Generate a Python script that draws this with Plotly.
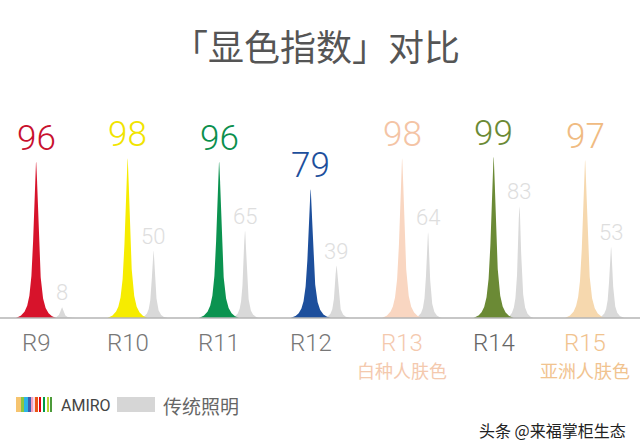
import numpy as np
import plotly.graph_objects as go

# ---------------- data ----------------
categories = ["R9", "R10", "R11", "R12", "R13", "R14", "R15"]
sub_labels = ["", "", "", "", "白种人肤色", "", "亚洲人肤色"]
amiro_values = [96, 98, 96, 79, 98, 99, 97]
traditional_values = [8, 50, 65, 39, 64, 83, 53]
series_names = ["AMIRO", "传统照明"]
title_text = "「显色指数」对比"
watermark_text = "头条 @来福掌柜生态"

# ---------------- styles ----------------
amiro_fill = ["#d7132b", "#f6ec00", "#0b9350", "#1d4f9c", "#f9d6c1", "#6b8a35", "#f6d8ae"]
amiro_text = ["#c8102e", "#f1e400", "#0b8f4d", "#1d4f9c", "#f4c4a5", "#6b8a35", "#f0bb82"]
cat_colors = ["#777777", "#777777", "#777777", "#777777", "#f4c9ae", "#666666", "#f1c38f"]
grey_fill = "#d9d9d9"
grey_text = "#dedede"
NARROW = "Roboto, Liberation Sans, sans-serif"
CJK = "Noto Sans CJK SC, Noto Sans, sans-serif"

W, H = 640, 448
baseline_px = 318
unit_px = 91.5
grey_offset = 0.284                       # x offset of the grey spike (category units)
color_shape = (2.9 / unit_px, 20 / unit_px)   # (core width, foot half-width)
grey_shape = (2.0 / unit_px, 14 / unit_px)


def spike(xc, h, shape):
    s, w = shape
    d = np.concatenate([-w * np.linspace(1, 0, 200) ** 2, w * np.linspace(0, 1, 200)[1:] ** 2])
    lor = 1 / (1 + (d / s) ** 2)
    lw = 1 / (1 + (w / s) ** 2)
    y = h * (lor - lw) / (1 - lw)
    return xc + d, y


fig = go.Figure()
for i, v in enumerate(traditional_values):
    xs, ys = spike(i + grey_offset, v, grey_shape)
    fig.add_trace(go.Scatter(x=xs, y=ys, fill="toself", fillcolor=grey_fill, mode="lines",
                             line=dict(width=0), yaxis="y", showlegend=False, hoverinfo="skip"))
for i, v in enumerate(amiro_values):
    xs, ys = spike(i, v, color_shape)
    fig.add_trace(go.Scatter(x=xs, y=ys, fill="toself", fillcolor=amiro_fill[i], mode="lines",
                             line=dict(width=0), yaxis="y2", showlegend=False, hoverinfo="skip"))

ann = []
for i, v in enumerate(amiro_values):
    ann.append(dict(x=i, y=v, xref="x", yref="y2", text=str(v), showarrow=False,
                    yanchor="bottom", yshift=1,
                    font=dict(family=NARROW, size=35, color=amiro_text[i], weight=300)))
for i, v in enumerate(traditional_values):
    ann.append(dict(x=i + grey_offset, y=v, xref="x", yref="y", text=str(v), showarrow=False,
                    yanchor="bottom", yshift=0,
                    font=dict(family=NARROW, size=22, color=grey_text, weight=300)))
for i, c in enumerate(categories):
    ann.append(dict(x=i, y=1 - 343 / H, xref="x", yref="paper", text=c, showarrow=False,
                    yanchor="middle", font=dict(family=NARROW, size=24, color=cat_colors[i], weight=300)))
    if sub_labels[i]:
        ann.append(dict(x=i, y=1 - 370 / H, xref="x", yref="paper", text=sub_labels[i], showarrow=False,
                        yanchor="middle", font=dict(family=CJK, size=18, color=cat_colors[i])))

# title
ann.append(dict(x=316 / W, y=1 - 45 / H, xref="paper", yref="paper", text=title_text, showarrow=False,
                xanchor="center", yanchor="middle", font=dict(family=CJK, size=36, color="#555555")))
# legend texts
ann.append(dict(x=59 / W, y=1 - 405 / H, xref="paper", yref="paper", text=series_names[0], showarrow=False,
                xanchor="left", yanchor="middle", font=dict(family=NARROW, size=16, color="#444444")))
ann.append(dict(x=161 / W, y=1 - 405 / H, xref="paper", yref="paper", text=series_names[1], showarrow=False,
                xanchor="left", yanchor="middle", font=dict(family=CJK, size=19, color="#666666")))
# watermark
ann.append(dict(x=628 / W, y=1 - 430 / H, xref="paper", yref="paper", text=watermark_text, showarrow=False,
                xanchor="right", yanchor="middle", font=dict(family=CJK, size=16, color="#222222")))

shapes = [dict(type="line", xref="paper", yref="paper", x0=0, x1=1,
               y0=1 - baseline_px / H, y1=1 - baseline_px / H, line=dict(color="#b5b5b5", width=1.5))]
# rainbow legend icon
stripes = [(16, 21, "#f6c46f"), (21, 24, "#8dc63f"), (24, 28, "#2bb5e5"), (28, 31, "#3c5fae"),
           (31, 33, "#f29fc3"), (33, 35, "#f5dbe6"), (35, 38, "#ea5514"), (39, 41, "#e60012"),
           (43, 45, "#009944"), (47, 49, "#b6d335"), (50, 52, "#4c9a3a")]
for x0, x1, c in stripes:
    shapes.append(dict(type="rect", xref="paper", yref="paper", x0=x0 / W, x1=x1 / W,
                       y0=1 - 412 / H, y1=1 - 397 / H, fillcolor=c, line=dict(width=0)))
shapes.append(dict(type="rect", xref="paper", yref="paper", x0=117 / W, x1=155 / W,
                   y0=1 - 412 / H, y1=1 - 397 / H, fillcolor="#d6d6d6", line=dict(width=0)))

x0_units = -36 / unit_px
x1_units = (W - 36) / unit_px
fig.update_layout(
    width=W, height=H, margin=dict(l=0, r=0, t=0, b=0),
    paper_bgcolor="white", plot_bgcolor="white",
    xaxis=dict(range=[x0_units, x1_units], visible=False, fixedrange=True),
    yaxis=dict(range=[0, baseline_px / 1.345], domain=[1 - baseline_px / H, 1], visible=False),
    yaxis2=dict(range=[0, baseline_px / 1.63], overlaying="y", visible=False),
    annotations=ann, shapes=shapes, showlegend=False,
)
fig.write_html("out.html", post_script="document.body.style.margin='0';",
               config={"displayModeBar": False})
